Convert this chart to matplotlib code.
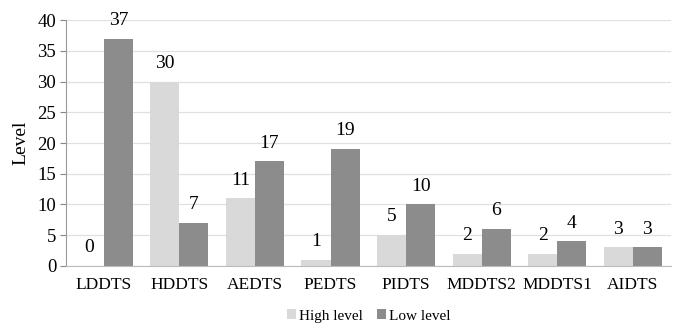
import matplotlib.pyplot as plt
import numpy as np

categories = ['LDDTS', 'HDDTS', 'AEDTS', 'PEDTS', 'PIDTS', 'MDDTS2', 'MDDTS1', 'AIDTS']
high_level = [0, 30, 11, 1, 5, 2, 2, 3]
low_level = [37, 7, 17, 19, 10, 6, 4, 3]

plt.rcParams['font.family'] = ['Liberation Serif', 'DejaVu Serif']

fig = plt.figure(figsize=(6.77, 3.25), dpi=100)
ax = fig.add_axes([0.0975, 0.182, 0.893, 0.756])

x = np.arange(len(categories))
w = 0.385
b1 = ax.bar(x - w / 2, high_level, w, color='#d9d9d9', label='High level', zorder=2)
b2 = ax.bar(x + w / 2, low_level, w, color='#8c8c8c', label='Low level', zorder=2)

# value labels above each bar
for bars, vals in ((b1, high_level), (b2, low_level)):
    for r, v in zip(bars, vals):
        ax.annotate(str(v), (r.get_x() + r.get_width() / 2, v),
                    xytext=(0, 7), textcoords='offset points',
                    ha='center', va='bottom', fontsize=14)

ax.set_xlim(-0.5, len(categories) - 0.5)
ax.set_ylim(0, 40)
ax.set_yticks(range(0, 41, 5))
ax.set_xticks(x)
ax.set_xticklabels(categories)
ax.tick_params(axis='x', length=0, labelsize=12.5, pad=8)
ax.tick_params(axis='y', length=4, color='#888888', labelsize=13.5, pad=3)
ax.yaxis.grid(True, color='#e0e0e0', linewidth=0.9, zorder=0)
ax.set_axisbelow(True)
ax.set_ylabel('Level', fontsize=14, labelpad=6)

for s in ('top', 'right'):
    ax.spines[s].set_visible(False)
ax.spines['left'].set_color('#999999')
ax.spines['bottom'].set_color('#bbbbbb')

fig.legend(loc='lower center', bbox_to_anchor=(0.545, -0.035), ncol=2, frameon=False,
           fontsize=11, handlelength=0.6, handleheight=0.6, handletextpad=0.2,
           columnspacing=0.9)

fig.savefig('out.png', dpi=100)
